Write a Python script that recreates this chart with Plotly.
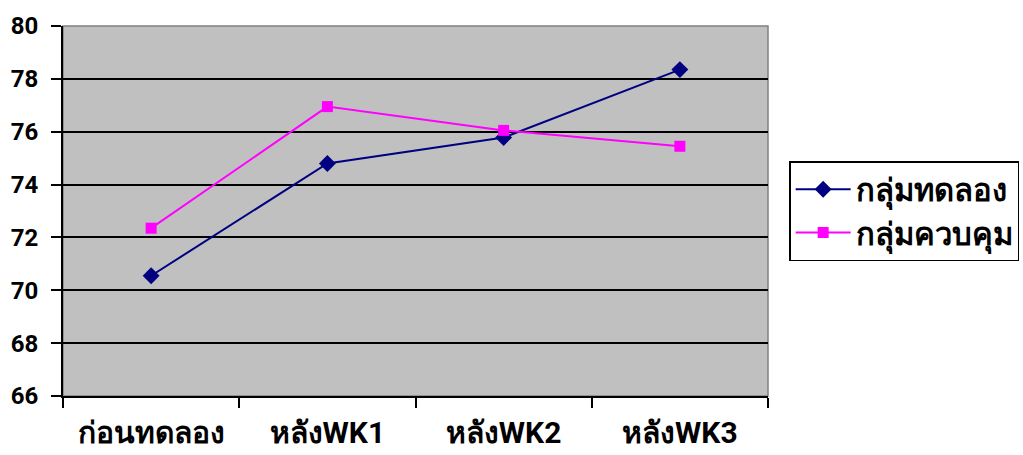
import plotly.graph_objects as go

# Mean scores at each measurement point
categories = ["ก่อนทดลอง", "หลังWK1", "หลังWK2", "หลังWK3"]
experimental = [70.55, 74.8, 75.78, 78.35]
control = [72.35, 76.95, 76.05, 75.45]
series_names = ["กลุ่มทดลอง", "กลุ่มควบคุม"]

FONT = "Roboto"

fig = go.Figure()
fig.add_trace(go.Scatter(
    x=categories, y=experimental, name=series_names[0],
    mode="lines+markers",
    line=dict(color="#000080", width=2),
    marker=dict(symbol="diamond", size=13, color="#000080"),
))
fig.add_trace(go.Scatter(
    x=categories, y=control, name=series_names[1],
    mode="lines+markers",
    line=dict(color="#FF00FF", width=2),
    marker=dict(symbol="square", size=11, color="#FF00FF"),
))

# grey frame around the plot area
fig.add_shape(type="rect", xref="paper", yref="paper", x0=0, x1=1, y0=0, y1=1,
              line=dict(color="#808080", width=1.5), layer="below")

fig.update_layout(
    width=1023, height=455,
    margin=dict(l=63, r=255, t=26, b=59, autoexpand=False),
    paper_bgcolor="white",
    plot_bgcolor="#C0C0C0",
    font=dict(family=FONT, color="black"),
    showlegend=True,
    legend=dict(
        x=1.03, y=0.635, xanchor="left", yanchor="top",
        bordercolor="black", borderwidth=1.5, bgcolor="white",
        font=dict(size=31, family=FONT, weight="bold"),
        itemwidth=55, tracegroupgap=0,
    ),
    xaxis=dict(
        type="category", automargin=False,
        showline=True, linecolor="black", linewidth=2,
        ticks="outside", ticklen=10, tickwidth=1.5, tickcolor="black",
        tickson="boundaries",
        showgrid=False,
        ticklabelstandoff=9,
        tickfont=dict(size=30, family=FONT, weight="bold"),
        range=[-0.5, 3.5],
    ),
    yaxis=dict(
        range=[66, 80], dtick=2, tick0=66, automargin=False,
        showline=True, linecolor="black", linewidth=2,
        ticks="outside", ticklen=10, tickwidth=1.5, tickcolor="black",
        showgrid=True, gridcolor="black", gridwidth=2,
        zeroline=False,
        ticklabelstandoff=8,
        tickfont=dict(size=24, family=FONT, weight="bold"),
    ),
)

fig.write_html("out.html")
